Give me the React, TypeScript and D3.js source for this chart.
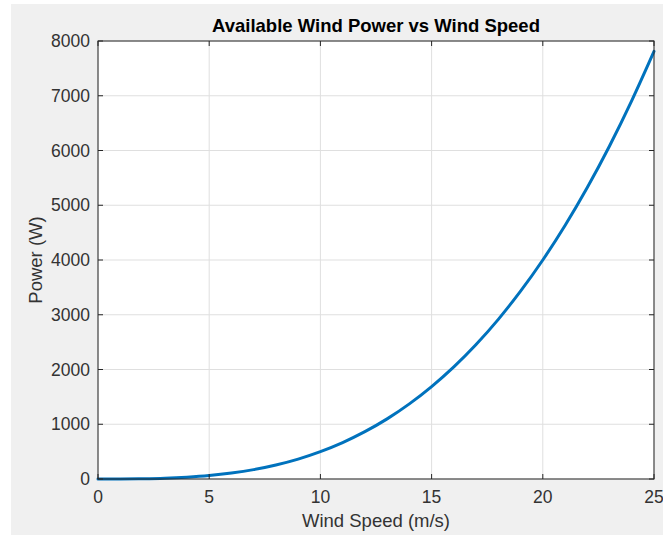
import React from 'react';
import * as d3 from 'd3';

// wind speed (m/s) and power (W)
const speeds = [0, 1, 2, 3, 4, 5, 6, 7, 8, 9, 10, 11, 12, 13, 14, 15, 16, 17, 18, 19, 20, 21, 22, 23, 24, 25];
const powers = [0, 0.5, 4, 13, 32, 62, 108, 171, 256, 364, 500, 665, 864, 1098, 1372, 1688, 2048, 2456, 2916, 3430, 4000, 4630, 5324, 6083, 6912, 7810];

const xTicks = [0, 5, 10, 15, 20, 25];
const yTicks = [0, 1000, 2000, 3000, 4000, 5000, 6000, 7000, 8000];

const W = 663;
const H = 535;
const box = { left: 98, right: 654, top: 41, bottom: 479 };
const font = '"Liberation Sans", Arial, Helvetica, sans-serif';
const axisColor = '#262626';

export default function App() {
  const x = d3.scaleLinear().domain([0, 25]).range([box.left, box.right]);
  const y = d3.scaleLinear().domain([0, 8000]).range([box.bottom, box.top]);

  const line = d3.line<number>()
    .x((_, i) => x(speeds[i]))
    .y((d) => y(d))
    .curve(d3.curveMonotoneX);

  const tick = 5;

  return (
    <svg width={W} height={H}
      style={{ position: 'absolute', left: 0, top: 0, fontFamily: font }}>
      <rect x={0} y={0} width={W} height={H} fill="#ffffff" />
      <rect x={11} y={4} width={W - 11} height={H - 4} fill="#f0f0f0" />
      <rect x={box.left} y={box.top} width={box.right - box.left}
        height={box.bottom - box.top} fill="#ffffff" />

      {/* grid */}
      {xTicks.map((t) => (
        <line key={'gx' + t} x1={x(t)} x2={x(t)} y1={box.top} y2={box.bottom}
          stroke="#dfdfdf" strokeWidth={1} />
      ))}
      {yTicks.map((t) => (
        <line key={'gy' + t} x1={box.left} x2={box.right} y1={y(t)} y2={y(t)}
          stroke="#dfdfdf" strokeWidth={1} />
      ))}

      {/* curve */}
      <path d={line(powers) || ''} fill="none" stroke="#0072bd" strokeWidth={3}
        strokeLinecap="round" />

      {/* box + inward ticks */}
      <rect x={box.left} y={box.top} width={box.right - box.left}
        height={box.bottom - box.top} fill="none" stroke={axisColor} strokeWidth={1} />
      {xTicks.map((t) => (
        <g key={'tx' + t} stroke={axisColor}>
          <line x1={x(t)} x2={x(t)} y1={box.bottom} y2={box.bottom - tick} />
          <line x1={x(t)} x2={x(t)} y1={box.top} y2={box.top + tick} />
        </g>
      ))}
      {yTicks.map((t) => (
        <g key={'ty' + t} stroke={axisColor}>
          <line x1={box.left} x2={box.left + tick} y1={y(t)} y2={y(t)} />
          <line x1={box.right} x2={box.right - tick} y1={y(t)} y2={y(t)} />
        </g>
      ))}

      {/* tick labels */}
      {xTicks.map((t) => (
        <text key={'lx' + t} x={x(t)} y={box.bottom + 24} textAnchor="middle"
          fontSize={17.5} fill="#333333">{t}</text>
      ))}
      {yTicks.map((t) => (
        <text key={'ly' + t} x={box.left - 8} y={y(t) + 6} textAnchor="end"
          fontSize={17.5} fill="#333333">{t}</text>
      ))}

      {/* labels */}
      <text x={(box.left + box.right) / 2} y={527} textAnchor="middle"
        fontSize={18.5} fill="#333333">Wind Speed (m/s)</text>
      <text transform={`translate(42, ${(box.top + box.bottom) / 2}) rotate(-90)`}
        textAnchor="middle" fontSize={18.5} fill="#333333">Power (W)</text>
      <text x={(box.left + box.right) / 2} y={32} textAnchor="middle"
        fontSize={18.5} fontWeight="bold" fill="#000000">Available Wind Power vs Wind Speed</text>
    </svg>
  );
}
